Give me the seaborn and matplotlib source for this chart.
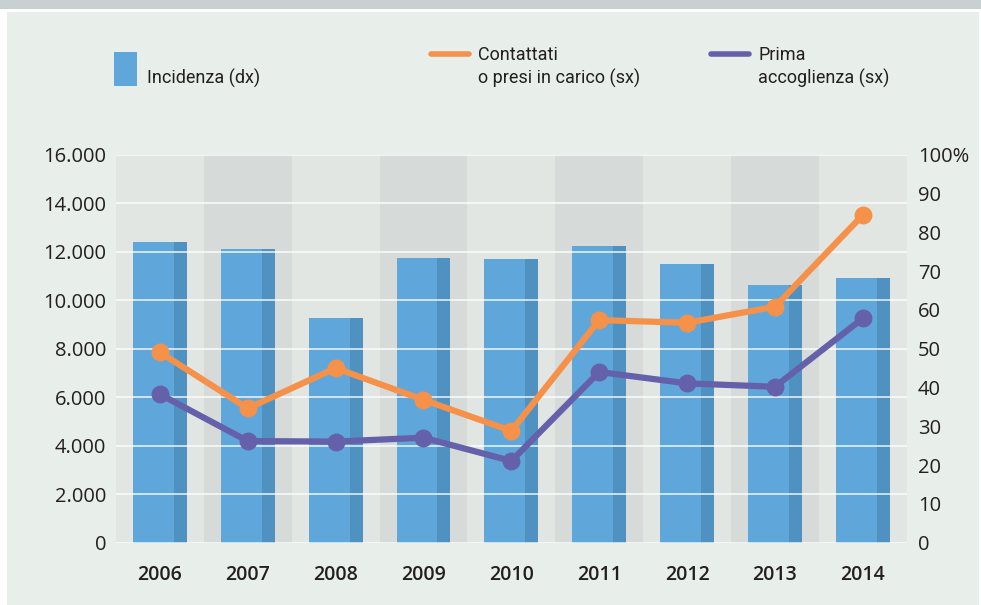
import numpy as np
import pandas as pd
import seaborn as sns
import matplotlib.pyplot as plt
from matplotlib.patches import Rectangle
from matplotlib.lines import Line2D
from matplotlib.ticker import FuncFormatter

years = ['2006', '2007', '2008', '2009', '2010', '2011', '2012', '2013', '2014']
incidenza = [77.5, 75.7, 57.8, 73.4, 73.0, 76.5, 71.8, 66.5, 68.3]  # % (dx)
contattati = [7850, 5540, 7200, 5890, 4610, 9180, 9070, 9730, 13510]  # (sx)
prima_acc = [6120, 4190, 4170, 4330, 3370, 7040, 6570, 6430, 9250]  # (sx)

df = pd.DataFrame({'anno': years, 'incidenza': incidenza,
                   'contattati': contattati, 'prima': prima_acc})

bg = '#e8eeea'
plot_bg = '#e1e6e3'
band = '#d6dad9'
blue = '#5fa7da'
blue_dark = '#4f92c2'
orange = '#f6914a'
purple = '#6560aa'
txt = '#231f20'

sns.set_style('white')
plt.rcParams['font.family'] = ['Open Sans', 'DejaVu Sans']

fig = plt.figure(figsize=(9.81, 6.05), dpi=100, facecolor='white')
W, H = 981, 605
# background panels
fig.add_artist(Rectangle((7 / W, 0), 972 / W, 1 - 12 / H, transform=fig.transFigure,
                         facecolor=bg, edgecolor='none', zorder=-10))
fig.add_artist(Rectangle((0, 1 - 9 / H), 1, 9 / H, transform=fig.transFigure,
                         facecolor='#c9d0d0', edgecolor='none', zorder=-10))

rect = [116 / W, 1 - 542.7 / H, 790.7 / W, 388 / H]
ax2 = fig.add_axes(rect)   # bars, right axis (dx)
ax = fig.add_axes(rect, sharex=ax2)  # lines, left axis (sx)
ax.patch.set_visible(False)
ax2.set_facecolor(plot_bg)

# alternating column bands
for i in range(1, len(years), 2):
    ax2.axvspan(i - 0.5, i + 0.5, color=band, lw=0, zorder=0)

# bars: dark full bar then light front part
sns.barplot(data=df, x='anno', y='incidenza', color=blue_dark, saturation=1,
            width=0.614, linewidth=0, ax=ax2, zorder=2)
n_before = len(ax2.patches)
sns.barplot(data=df, x='anno', y='incidenza', color=blue, saturation=1,
            width=0.614, linewidth=0, ax=ax2, zorder=3)
for p in ax2.patches[n_before:]:
    p.set_width(0.466)

ax2.set_ylim(0, 100)
ax2.set_yticks(np.arange(0, 101, 10))
ax2.yaxis.set_major_formatter(FuncFormatter(lambda v, _: '100%' if v == 100 else f'{v:.0f}'))
ax2.yaxis.tick_right()
ax2.set_xlabel('')
ax2.set_ylabel('')

# lines
sns.pointplot(data=df, x='anno', y='contattati', color=orange, markers='o',
              markersize=9.5, linewidth=4.5, ax=ax, zorder=5)
sns.pointplot(data=df, x='anno', y='prima', color=purple, markers='o',
              markersize=9.5, linewidth=4.5, ax=ax, zorder=5)
ax.set_ylim(0, 16000)
ax.set_yticks(np.arange(0, 16001, 2000))
ax.yaxis.set_major_formatter(FuncFormatter(lambda v, _: f'{v:,.0f}'.replace(',', '.')))
ax.grid(axis='y', color='white', lw=1.4, alpha=0.7, zorder=4)
ax.set_axisbelow(False)
ax.set_xlim(-0.5, len(years) - 0.5)
ax.set_xlabel('')
ax.set_ylabel('')

for a in (ax, ax2):
    for s in a.spines.values():
        s.set_visible(False)
    a.tick_params(length=0, labelsize=14.5, labelcolor=txt)
ax.tick_params(axis='y', pad=7)
ax2.tick_params(axis='y', pad=8)
ax.tick_params(axis='x', pad=16)
ax2.tick_params(axis='x', labelbottom=False)
for lbl in ax.get_xticklabels():
    lbl.set_fontweight('semibold')
    lbl.set_fontsize(14)

# legend
leg_font = ['Liberation Sans Narrow', 'Roboto', 'DejaVu Sans']
fig.add_artist(Rectangle((114 / W, 1 - 86 / H), 23 / W, 34 / H, transform=fig.transFigure,
                         facecolor=blue, edgecolor='none'))
fig.text(147 / W, 1 - 84 / H, 'Incidenza (dx)', family=leg_font, fontsize=13, color=txt, va='baseline')
fig.add_artist(Line2D([431 / W, 469 / W], [1 - 54 / H] * 2, transform=fig.transFigure,
                      color=orange, lw=4, solid_capstyle='round'))
fig.text(478 / W, 1 - 60 / H, 'Contattati', family=leg_font, fontsize=13, color=txt, va='baseline')
fig.text(478 / W, 1 - 84 / H, 'o presi in carico (sx)', family=leg_font, fontsize=13, color=txt, va='baseline')
fig.add_artist(Line2D([711 / W, 749 / W], [1 - 54 / H] * 2, transform=fig.transFigure,
                      color=purple, lw=4, solid_capstyle='round'))
fig.text(758 / W, 1 - 60 / H, 'Prima', family=leg_font, fontsize=13, color=txt, va='baseline')
fig.text(758 / W, 1 - 84 / H, 'accoglienza (sx)', family=leg_font, fontsize=13, color=txt, va='baseline')

fig.savefig('out.png', dpi=100, facecolor=fig.get_facecolor())
